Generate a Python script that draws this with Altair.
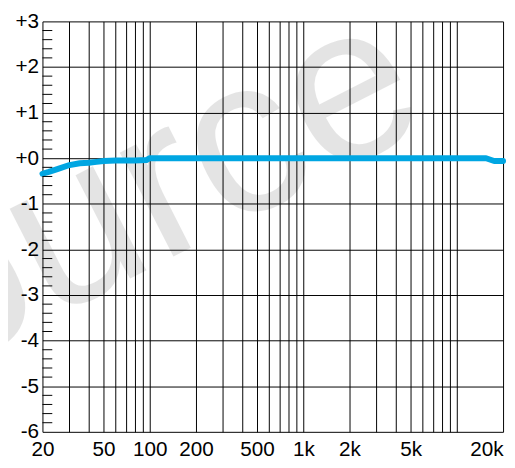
import altair as alt
import pandas as pd

# frequency response (Hz, dB)
freq = [20, 22, 25, 30, 35, 40, 45, 50, 60, 70, 80, 95, 100, 200, 500, 1000,
        2000, 5000, 10000, 15500, 17500, 20000]
level = [-0.34, -0.30, -0.24, -0.15, -0.11, -0.10, -0.08, -0.06, -0.05, -0.05,
         -0.05, -0.04, 0.0, 0.0, 0.0, 0.0, 0.0, 0.0, 0.0, 0.0, -0.06, -0.06]

x_grid = [20, 30, 40, 50, 60, 70, 80, 90, 100, 200, 300, 400, 500, 600, 700, 800,
          900, 1000, 2000, 3000, 4000, 5000, 6000, 7000, 8000, 9000, 10000, 20000]
x_labels = [20, 50, 100, 200, 500, 1000, 2000, 5000, 20000]
y_ticks = [-6, -5, -4, -3, -2, -1, 0, 1, 2, 3]
minor_ticks = [round(t + s, 1) for t in y_ticks[:-1] for s in (0.2, 0.4, 0.6, 0.8)]
watermark = "Source"

df = pd.DataFrame({"f": freq, "db": level})
FONT = "Liberation Sans"

x_enc = alt.X("f:Q", scale=alt.Scale(type="log", domain=[20, 20000], nice=False),
              axis=alt.Axis(values=x_grid, title=None, ticks=False, domain=False,
                            grid=True, gridColor="#000000", gridWidth=1, gridOpacity=1,
                            labelOverlap=False, labelPadding=7, labelFont=FONT,
                            labelFontSize=21, labelColor="#000000",
                            labelAlign=alt.condition("datum.value >= 20000",
                                                     alt.value("right"), alt.value("center")),
                            labelExpr="indexof(" + str(x_labels) + ", datum.value) >= 0 ? "
                                      "(datum.value >= 1000 ? (datum.value/1000) + 'k' : '' + datum.value) : ''"))
y_enc = alt.Y("db:Q", scale=alt.Scale(domain=[-6, 3], nice=False, zero=False),
              axis=alt.Axis(values=y_ticks, title=None, ticks=False, domain=False,
                            grid=True, gridColor="#000000", gridWidth=1, gridOpacity=1,
                            labelPadding=4, labelFont=FONT, labelFontSize=21,
                            labelColor="#000000",
                            labelExpr="datum.value >= 0 ? '+' + datum.value : '' + datum.value"))

wm = alt.Chart(pd.DataFrame({"t": [watermark]})).mark_text(
    font=FONT, fontSize=225, angle=333, align="center", baseline="alphabetic",
    color="#000000", opacity=0.1
).encode(text="t:N", x=alt.value(80), y=alt.value(266))

minor = alt.Chart(pd.DataFrame({"m": minor_ticks})).mark_rule(
    color="#000000", strokeWidth=1
).encode(y=alt.Y("m:Q", scale=alt.Scale(domain=[-6, 3], nice=False)),
         x=alt.value(0), x2=alt.value(10))

curve = alt.Chart(df).mark_line(color="#00a6e2", strokeWidth=6, strokeCap="round",
                                strokeJoin="round").encode(x=x_enc, y=y_enc)

chart = alt.layer(wm, curve, minor).properties(
    width=468, height=417,
    padding={"left": 35, "top": 10, "right": 4, "bottom": 25},
    autosize="none",
    background="#ffffff",
).configure_view(strokeWidth=0)

chart.save("out.html", embed_options={"renderer": "svg", "actions": False})
